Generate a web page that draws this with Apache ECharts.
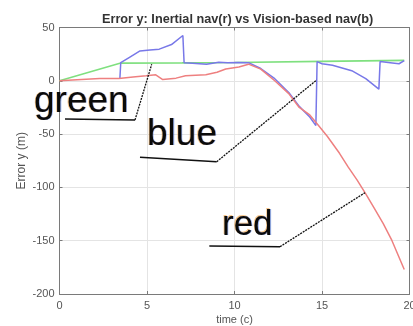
<!DOCTYPE html>
<html>
<head>
<meta charset="utf-8">
<script src="https://cdn.jsdelivr.net/npm/echarts@6/dist/echarts.min.js"></script>
<style>
  html, body { margin: 0; padding: 0; background: #fff; }
  #chart { width: 413px; height: 326px; }
</style>
</head>
<body>
<div id="chart"></div>
<script>
// Time stamps (s) and y-error (m) for each navigation solution
const inertialT = [0, 1, 2.3, 3.4, 4.2, 4.95, 5.5, 5.9, 6.66, 7.2, 8.36, 9.0, 9.5, 10.25, 10.8, 11.5, 12.3, 13.1, 13.7, 14.3, 14.8, 15.3, 16.0, 16.5, 17.0, 17.5, 18.0, 18.5, 19.0, 19.7];
const inertialErr = [0, 1, 2.2, 2.2, 3.5, 4.7, 5.6, 1.2, 2.5, 4.7, 5.6, 8, 11, 13, 15.6, 11, 0, -12, -25, -32, -42, -52, -68, -81, -93, -106, -120, -134, -150, -177];

const visionT = [3.45, 3.5, 4.0, 4.6, 5.17, 5.7, 6.4, 7.05, 7.12, 7.6, 8.4, 9.1, 9.6, 10.2, 10.8, 11.5, 12.3, 13.1, 13.7, 14.3, 14.65, 14.72, 15.0, 15.6, 16.7, 17.5, 18.25, 18.32, 18.9, 19.4, 19.7];
const visionErr = [2.2, 17, 22, 28, 29, 29.7, 34, 42.5, 17, 16.5, 15.5, 17.5, 17, 17.2, 17, 11.5, 2, -11, -24, -34, -42, 18, 16, 14.5, 9.5, 2, -7.8, 18, 17, 16, 19];

const refT = [0, 3.5, 7, 10, 15, 19.7];
const refErr = [0, 16.6, 16.8, 17.2, 18.2, 19.2];

const timeTicks = { min: 0, max: 20, step: 5 };
const errTicks = { min: -200, max: 50, step: 50 };

const zip = (xs, ys) => xs.map((x, i) => [x, ys[i]]);

const chart = echarts.init(document.getElementById('chart'), null, { renderer: 'canvas' });

const frame = '#7a7a7a';
const labelFont = '"Liberation Sans", Arial, sans-serif';

function boxAxis(pos, range, primary, extra) {
  return Object.assign({
    type: 'value',
    position: pos,
    min: range.min,
    max: range.max,
    interval: range.step,
    axisLine: { show: true, onZero: false, lineStyle: { color: frame, width: 1 } },
    axisTick: { show: true, inside: true, length: 3, lineStyle: { color: frame } },
    axisLabel: { show: primary, color: '#555', fontSize: 11, fontFamily: labelFont },
    splitLine: { show: primary, lineStyle: { color: '#e4e4e4', width: 1 } }
  }, extra || {});
}

// Annotation callouts: text with a slight colour fringe, underline and leader line
function callout(label, size, tx, ty, pts) {
  const font = size + 'px ' + labelFont;
  return [
    { type: 'text', left: tx - 0.8, top: ty - 0.4, z: 10,
      style: { text: label, font: font, fill: 'rgba(240,150,40,0.55)' } },
    { type: 'text', left: tx + 0.8, top: ty, z: 10,
      style: { text: label, font: font, fill: 'rgba(60,110,230,0.5)' } },
    { type: 'text', left: tx, top: ty, z: 11,
      style: { text: label, font: font, fill: '#0a0a0a' } },
    { type: 'polyline', z: 11, shape: { points: pts.slice(0, 2) },
      style: { stroke: '#111', lineWidth: 1.4, fill: null } },
    { type: 'polyline', z: 11, shape: { points: pts.slice(1) },
      style: { stroke: '#111', lineWidth: 1.3, lineDash: [2, 1], fill: null } }
  ];
}

chart.setOption({
  animation: false,
  backgroundColor: '#fff',
  title: {
    text: 'Error y: Inertial nav(r) vs Vision-based nav(b)',
    left: 97, top: 8,
    textStyle: { fontSize: 12.7, fontWeight: 'bold', color: '#333', fontFamily: labelFont }
  },
  grid: { left: 59.5, right: 3.5, top: 27.5, bottom: 32, containLabel: false, outerBoundsMode: 'none' },
  xAxis: [
    boxAxis('bottom', timeTicks, true, {
      name: 'time (c)', nameLocation: 'middle', nameGap: 20, nameMoveOverlap: false,
      nameTextStyle: { color: '#555', fontSize: 11, fontFamily: labelFont },
      axisLabel: { show: true, color: '#555', fontSize: 11, fontFamily: labelFont, margin: 6 }
    }),
    boxAxis('top', timeTicks, false)
  ],
  yAxis: [
    boxAxis('left', errTicks, true, {
      name: 'Error y (m)', nameLocation: 'middle', nameGap: 32, nameMoveOverlap: false,
      nameTextStyle: { color: '#555', fontSize: 12, fontFamily: labelFont },
      axisLabel: { show: true, color: '#555', fontSize: 11, fontFamily: labelFont, margin: 5 }
    }),
    boxAxis('right', errTicks, false)
  ],
  series: [
    { name: 'reference', type: 'line', data: zip(refT, refErr), showSymbol: false,
      lineStyle: { color: '#7fe07f', width: 1.6 }, z: 2 },
    { name: 'vision', type: 'line', data: zip(visionT, visionErr), showSymbol: false,
      lineStyle: { color: '#7878e8', width: 1.5 }, z: 3 },
    { name: 'inertial', type: 'line', data: zip(inertialT, inertialErr), showSymbol: false,
      lineStyle: { color: '#ee8080', width: 1.5 }, z: 3 }
  ],
  graphic: [].concat(
    callout('green', 37, 34, 83.5, [[65, 119], [135, 120], [151.7, 64.3]]),
    callout('blue', 37, 147, 116.5, [[140, 157.3], [216.7, 161.7], [316.7, 80]]),
    callout('red', 35, 222, 207.5, [[209.3, 246], [280, 246.7], [365, 192.7]])
  )
});
</script>
</body>
</html>
